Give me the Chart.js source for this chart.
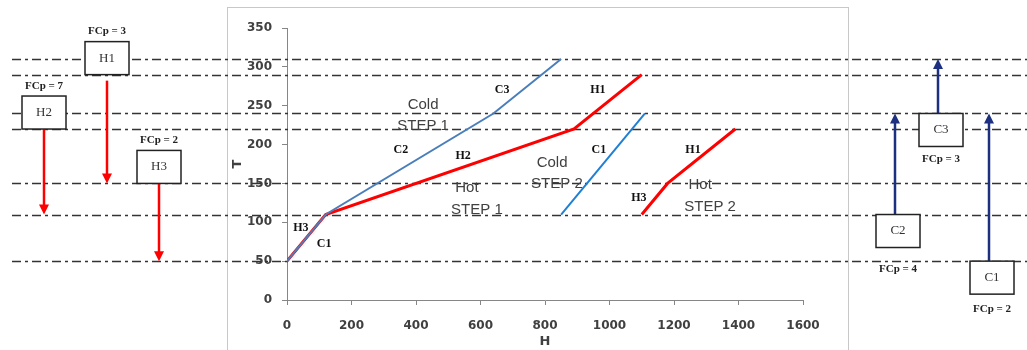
<!DOCTYPE html>
<html>
<head>
<meta charset="utf-8">
<script src="https://cdn.jsdelivr.net/npm/chart.js@4"></script>
<style>
  body { margin: 0; background: #fff; }
  canvas { display: block; }
</style>
</head>
<body>
<canvas id="chart" width="1027" height="350"></canvas>
<script>
// composite curves (H, T)
const coldStep1H = [0, 120, 640, 850];
const coldStep1T = [50, 110, 240, 310];
const hotStep1H = [0, 120, 890, 1100];
const hotStep1T = [50, 110, 220, 290];
const coldStep2H = [850, 1110];
const coldStep2T = [110, 240];
const hotStep2H = [1100, 1180, 1390];
const hotStep2T = [110, 150, 220];

// temperature interval lines
const intervalTemps = [310, 290, 240, 220, 150, 110, 50];

// streams
const hotNames = ['H1', 'H2', 'H3'];
const hotFCp = [3, 7, 2];
const hotSupply = [290, 220, 150];
const hotTarget = [150, 110, 50];
const coldNames = ['C1', 'C2', 'C3'];
const coldFCp = [2, 4, 3];
const coldSupply = [50, 110, 240];
const coldTarget = [240, 240, 310];

// text on the curves: [text, H, T]
const curveLabels = [
  ['C3', 667, 270], ['C2', 353, 193], ['H2', 546, 185], ['H3', 43, 93], ['C1', 115, 72],
  ['H1', 964, 270], ['C1', 967, 193], ['H3', 1091, 132], ['H1', 1259, 193]
];
const stepLabels = [
  ['Cold', 422, 251], ['STEP 1', 422, 224], ['Hot', 558, 144], ['STEP 1', 589, 116],
  ['Cold', 822, 177], ['STEP 2', 837, 149], ['Hot', 1281, 148], ['STEP 2', 1312, 120]
];

const xTicks = [0, 200, 400, 600, 800, 1000, 1200, 1400, 1600];
const yTicks = [0, 50, 100, 150, 200, 250, 300, 350];

const toPoints = (hs, ts) => hs.map((h, i) => ({ x: h, y: ts[i] }));

// box layout for the side stream diagrams
const hotBoxLeft = [85, 22, 137];
const hotArrowGap = [6, 0, 0];
const coldBoxLeft = [970, 876, 919];
const coldLabelGap = [15, 22, 13];
const boxW = 44;
const boxH = 33;

const drawArrow = (ctx, x, y1, y2, color) => {
  const dir = y2 > y1 ? 1 : -1;
  ctx.save();
  ctx.strokeStyle = color;
  ctx.fillStyle = color;
  ctx.lineWidth = 2.5;
  ctx.beginPath();
  ctx.moveTo(x, y1);
  ctx.lineTo(x, y2 - dir * 8);
  ctx.stroke();
  ctx.beginPath();
  ctx.moveTo(x, y2);
  ctx.lineTo(x - 5, y2 - dir * 10);
  ctx.lineTo(x + 5, y2 - dir * 10);
  ctx.closePath();
  ctx.fill();
  ctx.restore();
};

const drawBox = (ctx, left, top, name) => {
  ctx.save();
  ctx.fillStyle = '#fff';
  ctx.fillRect(left, top, boxW, boxH);
  ctx.strokeStyle = '#222';
  ctx.lineWidth = 1.5;
  ctx.strokeRect(left, top, boxW, boxH);
  ctx.fillStyle = '#333';
  ctx.font = '13px "Liberation Serif"';
  ctx.textAlign = 'center';
  ctx.textBaseline = 'middle';
  ctx.fillText(name, left + boxW / 2, top + boxH / 2);
  ctx.restore();
};

const diagramPlugin = {
  id: 'diagram',
  beforeDraw(chart) {
    const ctx = chart.ctx;
    ctx.save();
    ctx.strokeStyle = '#c8c8c8';
    ctx.lineWidth = 1;
    ctx.strokeRect(227.5, 7.5, 621, 360);
    ctx.restore();
  },
  beforeDatasetsDraw(chart) {
    const ctx = chart.ctx;
    const yScale = chart.scales.y;
    ctx.save();
    ctx.strokeStyle = '#333';
    ctx.lineWidth = 1.5;
    ctx.setLineDash([9, 4, 3, 4]);
    intervalTemps.forEach((t) => {
      const y = Math.round(yScale.getPixelForValue(t)) + 0.5;
      ctx.beginPath();
      ctx.moveTo(12, y);
      ctx.lineTo(1027, y);
      ctx.stroke();
    });
    ctx.restore();
  },
  afterDatasetsDraw(chart) {
    const ctx = chart.ctx;
    const xScale = chart.scales.x;
    const yScale = chart.scales.y;

    ctx.save();
    ctx.textAlign = 'center';
    ctx.textBaseline = 'middle';
    ctx.fillStyle = '#111';
    ctx.font = 'bold 12px "Liberation Serif"';
    curveLabels.forEach(([txt, h, t]) => {
      ctx.fillText(txt, xScale.getPixelForValue(h), yScale.getPixelForValue(t));
    });
    ctx.fillStyle = '#404040';
    ctx.font = '15px "Liberation Sans Narrow", "Liberation Sans"';
    stepLabels.forEach(([txt, h, t]) => {
      ctx.fillText(txt, xScale.getPixelForValue(h), yScale.getPixelForValue(t));
    });
    ctx.restore();

    // hot streams (left)
    hotNames.forEach((name, i) => {
      const left = hotBoxLeft[i];
      const bottom = yScale.getPixelForValue(hotSupply[i]);
      const top = bottom - boxH;
      drawArrow(ctx, left + boxW / 2, bottom + hotArrowGap[i], yScale.getPixelForValue(hotTarget[i]), '#ff0000');
      drawBox(ctx, left, top, name);
      ctx.save();
      ctx.fillStyle = '#222';
      ctx.font = 'bold 11px "Liberation Serif"';
      ctx.textAlign = 'center';
      ctx.textBaseline = 'middle';
      ctx.fillText('FCp = ' + hotFCp[i], left + boxW / 2, top - 10);
      ctx.restore();
    });

    // cold streams (right)
    coldNames.forEach((name, i) => {
      const left = coldBoxLeft[i];
      const top = yScale.getPixelForValue(coldSupply[i]);
      drawArrow(ctx, left + boxW / 2 - 3, top, yScale.getPixelForValue(coldTarget[i]), '#1c2f80');
      drawBox(ctx, left, top, name);
      ctx.save();
      ctx.fillStyle = '#222';
      ctx.font = 'bold 11px "Liberation Serif"';
      ctx.textAlign = 'center';
      ctx.textBaseline = 'middle';
      ctx.fillText('FCp = ' + coldFCp[i], left + boxW / 2, top + boxH + coldLabelGap[i]);
      ctx.restore();
    });
  }
};

const tickFont = { family: 'DejaVu Sans', size: 12, weight: 'bold' };

new Chart(document.getElementById('chart'), {
  type: 'scatter',
  data: {
    datasets: [
      { label: 'Cold STEP 1', data: toPoints(coldStep1H, coldStep1T), showLine: true, borderColor: '#4a7ebb', borderWidth: 2, pointRadius: 0 },
      { label: 'Hot STEP 1', data: toPoints(hotStep1H, hotStep1T), showLine: true, borderColor: '#ff0000', borderWidth: 3, pointRadius: 0 },
      { label: 'Cold STEP 2', data: toPoints(coldStep2H, coldStep2T), showLine: true, borderColor: '#1f7fd4', borderWidth: 2, pointRadius: 0 },
      { label: 'Hot STEP 2', data: toPoints(hotStep2H, hotStep2T), showLine: true, borderColor: '#ff0000', borderWidth: 3, pointRadius: 0 }
    ]
  },
  options: {
    responsive: false,
    animation: false,
    layout: { padding: { left: 230, right: 224, top: 28, bottom: 0 } },
    plugins: {
      legend: { display: false },
      tooltip: { enabled: false }
    },
    scales: {
      x: {
        type: 'linear',
        min: 0,
        max: 1600,
        afterFit: (s) => { s.height = 50; },
        afterBuildTicks: (s) => { s.ticks = xTicks.map((v) => ({ value: v })); },
        grid: { drawOnChartArea: false, tickLength: 5, color: '#868686' },
        border: { color: '#868686' },
        ticks: { font: tickFont, color: '#404040', padding: 14, callback: (v) => String(v) },
        title: { display: true, text: 'H', font: { family: 'DejaVu Sans', size: 13, weight: 'bold' }, color: '#404040', padding: { top: 0, bottom: 1 } }
      },
      y: {
        min: 0,
        max: 350,
        afterFit: (s) => { s.width = 57; },
        afterBuildTicks: (s) => { s.ticks = yTicks.map((v) => ({ value: v })); },
        grid: { drawOnChartArea: false, tickLength: 5, color: '#868686' },
        border: { color: '#868686' },
        ticks: { font: tickFont, color: '#404040', padding: 10, callback: (v) => String(v) },
        title: { display: true, text: 'T', font: { family: 'DejaVu Sans', size: 13, weight: 'bold' }, color: '#404040', padding: { top: 0, bottom: 0 } }
      }
    }
  },
  plugins: [diagramPlugin]
});
</script>
</body>
</html>
